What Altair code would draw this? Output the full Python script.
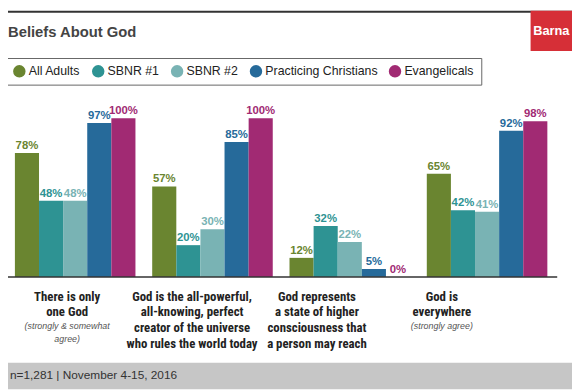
import altair as alt
import pandas as pd

categories = ["There is only one God", "God is the all-powerful creator", "God represents higher consciousness", "God is everywhere"]
series = ["All Adults", "SBNR #1", "SBNR #2", "Practicing Christians", "Evangelicals"]
colors = ["#6a8530", "#2e9393", "#79b3b4", "#266a9a", "#a12a73"]
values = {
    "All Adults": [78, 57, 12, 65],
    "SBNR #1": [48, 20, 32, 42],
    "SBNR #2": [48, 30, 22, 41],
    "Practicing Christians": [97, 85, 5, 92],
    "Evangelicals": [100, 100, 0, 98],
}
label_main = [
    "There is only\none God",
    "God is the all-powerful,\nall-knowing, perfect\ncreator of the universe\nwho rules the world today",
    "God represents\na state of higher\nconsciousness that\na person may reach",
    "God is\neverywhere",
]
label_sub = ["(strongly & somewhat\nagree)", "", "", "(strongly agree)"]
title_text = "Beliefs About God"
brand_text = "Barna"
footer_text = "n=1,281  |  November 4-15, 2016"

rows = []
for s in series:
    for c, v in zip(categories, values[s]):
        rows.append({"cat": c, "series": s, "value": v, "label": f"{v}%"})
df = pd.DataFrame(rows)
labels_df = pd.DataFrame({"cat": categories, "main": label_main, "sub": label_sub})

W, H = 572, 384
NARROW = "Roboto Condensed, DejaVu Sans Condensed, Roboto, sans-serif"
SANS = "Liberation Sans, Arial, Helvetica, sans-serif"

xscale = alt.Scale(domain=categories, range=[7, 547], paddingInner=0.122, paddingOuter=0)
yscale = alt.Scale(domain=[0, 100], range=[270, 109])
xoff = alt.XOffset("series:N", sort=series, scale=alt.Scale(paddingInner=0, paddingOuter=0))
color = alt.Color(
    "series:N",
    sort=series,
    scale=alt.Scale(domain=series, range=colors),
    legend=alt.Legend(
        title=None, orient="none", legendX=-2, legendY=48, direction="horizontal",
        symbolType="circle", symbolSize=160, symbolStrokeWidth=0,
        labelFont=SANS, labelFontSize=12.5, labelColor="#222",
        strokeColor="#666", padding=7, columnPadding=11, labelOffset=3,
        fillColor="white",
    ),
)

base = alt.Chart(df)

bars = base.mark_bar().encode(
    x=alt.X("cat:N", sort=categories, scale=xscale, axis=None),
    xOffset=xoff,
    y=alt.Y("value:Q", scale=yscale, axis=None),
    color=color,
)

vals = base.mark_text(font=SANS, fontWeight="bold", fontSize=11.5, dy=-4, baseline="alphabetic").encode(
    x=alt.X("cat:N", sort=categories, scale=xscale, axis=None),
    xOffset=xoff,
    y=alt.Y("value:Q", scale=yscale, axis=None),
    text="label:N",
    color=alt.Color("series:N", sort=series, scale=alt.Scale(domain=series, range=colors), legend=None),
)

baseline = alt.Chart(alt.Data(values=[{"v": 0}])).mark_rule(color="#333", strokeWidth=1.5).encode(
    y=alt.Y("v:Q", scale=yscale, axis=None), x=alt.value(0), x2=alt.value(557)
)

lxscale = alt.Scale(type="point", domain=categories, range=[60, 440], padding=0)
main_labels = alt.Chart(labels_df).mark_text(
    font=NARROW, fontWeight="bold", fontSize=13, lineHeight=16, lineBreak="\n",
    baseline="alphabetic", color="#222", align="center",
).encode(x=alt.X("cat:N", sort=categories, scale=lxscale, axis=None), y=alt.value(294), text="main:N")

sub_labels = alt.Chart(labels_df).mark_text(
    font=SANS, fontStyle="italic", fontSize=9, lineHeight=13, lineBreak="\n",
    baseline="alphabetic", color="#555", align="center",
).encode(x=alt.X("cat:N", sort=categories, scale=lxscale, axis=None), y=alt.value(323), text="sub:N")

deco = alt.Data(values=[{"a": 1}])
top_line = alt.Chart(deco).mark_rule(color="#333", strokeWidth=2).encode(
    x=alt.value(0), x2=alt.value(W), y=alt.value(1)
)
title = alt.Chart(alt.Data(values=[{"t": title_text}])).mark_text(
    font=SANS, fontWeight="bold", fontSize=15, color="#444", align="left", baseline="middle"
).encode(x=alt.value(0), y=alt.value(22), text="t:N")
brand_box = alt.Chart(deco).mark_rect(color="#d62f37").encode(
    x=alt.value(530), x2=alt.value(W), y=alt.value(0), y2=alt.value(41)
)
brand = alt.Chart(alt.Data(values=[{"t": brand_text}])).mark_text(
    font=SANS, fontWeight="bold", fontSize=13, color="white", align="center", baseline="middle"
).encode(x=alt.value(551), y=alt.value(21), text="t:N")
footer_band = alt.Chart(deco).mark_rect(color="#c6c6c6").encode(
    x=alt.value(0), x2=alt.value(W), y=alt.value(357), y2=alt.value(H)
)
footer = alt.Chart(alt.Data(values=[{"t": footer_text}])).mark_text(
    font=SANS, fontSize=12, color="#333", align="left", baseline="middle"
).encode(x=alt.value(2), y=alt.value(370), text="t:N")

chart = alt.layer(
    top_line, title, brand_box, brand, bars, vals, baseline, main_labels, sub_labels, footer_band, footer
).resolve_scale(x="independent").properties(
    width=W, height=H, autosize=alt.AutoSizeParams(type="none"), padding=0
).configure_view(stroke=None)

chart.save("out.html", embed_options={"renderer": "svg", "actions": False})
